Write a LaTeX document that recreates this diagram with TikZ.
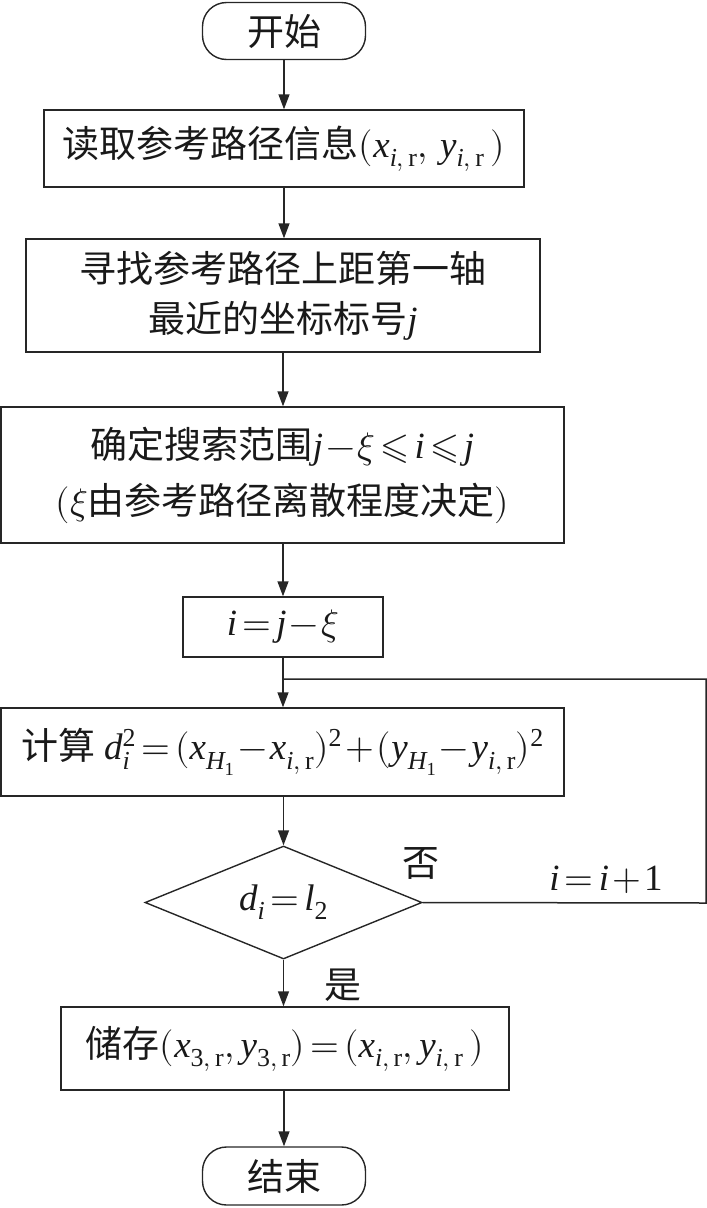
\documentclass[tikz,border=0pt]{standalone}
\usepackage{fontspec}
\usepackage{unicode-math}
\setmainfont{Liberation Serif}
\setmathfont{Latin Modern Math}
\setmathfont[range={it/{latin,Latin}}]{Liberation Serif Italic}
\setmathfont[range={up/{latin,Latin,num}}]{Liberation Serif}
\newfontfamily\cjk{Noto Sans CJK SC}
\newcommand\tightmath{\medmuskip=1.5mu\thickmuskip=2.5mu}
\usetikzlibrary{arrows.meta,shapes.geometric}
\begin{document}
\begin{tikzpicture}[x=1pt,y=-1pt,
  every node/.style={font=\fontsize{37}{44}\selectfont\tightmath, inner sep=0pt, text=black!90},
  box/.style={draw=black!85, line width=1.4pt, align=center},
  term/.style={box, rounded corners=24pt},
  dec/.style={draw=black!85, line width=1.4pt, diamond, inner sep=0pt},
  arr/.style={draw=black!85, line width=1.4pt, -{Triangle[length=15pt,width=11pt]}},
  lne/.style={draw=black!85, line width=1.5pt},
  lbl/.style={font=\fontsize{37}{44}\selectfont\tightmath}
]
\useasboundingbox (0,0) rectangle (707,1208);

\node[term, minimum width=163pt, minimum height=57pt] (s) at (284,31) {\cjk 开始};
\node[box, minimum width=480pt, minimum height=77pt] (b2) at (284,148.5)
  {{\cjk 读取参考路径信息}$(x_{i,\,\mathrm{r}},\,y_{i,\,\mathrm{r}}\,)$};
\node[box, minimum width=514pt, minimum height=113pt] (b3) at (283,295.5)
  {{\cjk 寻找参考路径上距第一轴}\\[6pt]{\cjk 最近的坐标标号}$j$};
\node[box, minimum width=563pt, minimum height=136pt] (b4) at (282.5,475)
  {{\cjk 确定搜索范围}$j-\xi\leqslant i\leqslant j$\\[12pt]$(\xi${\cjk 由参考路径离散程度决定}$)$};
\node[box, minimum width=200pt, minimum height=60pt] (b5) at (283,627) {$i=j-\xi$};
\node[box, minimum width=563pt, minimum height=88pt] (b6) at (282.5,752)
  {{\cjk 计算}\hspace{9pt}$d_i^2=(x_{H_1}-x_{i,\,\mathrm{r}})^2+(y_{H_1}-y_{i,\,\mathrm{r}})^2$};
\node[dec, minimum width=277pt, minimum height=113pt] (d) at (283.5,902.5) {};
\node (dt) at (283.5,902.5) {$d_i=l_2$};
\node[box, minimum width=448pt, minimum height=83pt] (b8) at (285,1048.5)
  {{\cjk 储存}$(x_{3,\,\mathrm{r}},y_{3,\,\mathrm{r}})=(x_{i,\,\mathrm{r}},y_{i,\,\mathrm{r}}\,)$};
\node[term, minimum width=163pt, minimum height=58pt] (e) at (284,1176) {\cjk 结束};

\node[lbl] (no) at (421,863) {\cjk 否};
\node[lbl] (inc) at (606,880) {$i=i+1$};
\node[lbl] (yes) at (343,985) {\cjk 是};

\coordinate (j) at (283,679);
\coordinate (rb) at (706,903);

\draw[arr] (s.south) -- (s.south |- b2.north);
\draw[arr] (b2.south -| s.south) -- (s.south |- b3.north);
\draw[arr] (b3.south) -- (b3.south |- b4.north);
\draw[arr] (b4.south -| b5.north) -- (b5.north);
\draw[arr] (b5.south) -- (b5.south |- b6.north);
\draw[arr] (b6.south -| d.north) -- (d.north);
\draw[arr] (d.south) -- (d.south |- b8.north);
\draw[arr] (b8.south -| e.north) -- (e.north);
\draw[lne] (d.east) -- (rb) |- (j);
\end{tikzpicture}
\end{document}
